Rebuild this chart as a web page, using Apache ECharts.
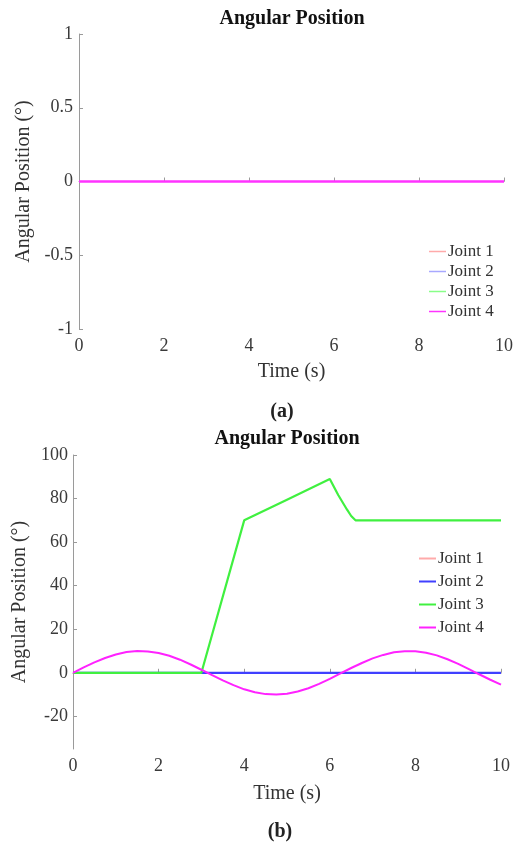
<!DOCTYPE html>
<html>
<head>
<meta charset="utf-8">
<script src="https://cdn.jsdelivr.net/npm/echarts@6/dist/echarts.min.js"></script>
<style>
html,body{margin:0;padding:0;background:#fff;}
#chart{width:516px;height:845px;}
</style>
</head>
<body>
<div id="chart"></div>
<script>
// ---- Data ----
const seriesNames = ['Joint 1', 'Joint 2', 'Joint 3', 'Joint 4'];

// (a) all joints stay at 0
const timeA = [0, 2, 4, 6, 8, 10];
const joint1A = [0, 0, 0, 0, 0, 0];
const joint2A = [0, 0, 0, 0, 0, 0];
const joint3A = [0, 0, 0, 0, 0, 0];
const joint4A = [0, 0, 0, 0, 0, 0];

// (b)
const timeB12 = [0, 10];
const joint1B = [0, 0];
const joint2B = [0, 0];
const timeB3 = [0, 3, 4, 5, 6, 6.2, 6.4, 6.5, 6.6, 10];
const joint3B = [0, 0, 70, 79.5, 89, 81.5, 75, 72, 70, 70];
const timeB4 = [0, 0.25, 0.5, 0.75, 1, 1.25, 1.5, 1.75, 2, 2.25, 2.5, 2.75, 3, 3.25, 3.5, 3.75, 4, 4.25, 4.5, 4.75, 5,
  5.25, 5.5, 5.75, 6, 6.25, 6.5, 6.75, 7, 7.25, 7.5, 7.75, 8, 8.25, 8.5, 8.75, 9, 9.25, 9.5, 9.75, 10];
const joint4B = [0, 2.5, 4.8, 6.8, 8.4, 9.5, 10.0, 9.8, 9.1, 7.8, 6.0, 3.8, 1.4, -1.1, -3.5, -5.7, -7.6, -8.9, -9.8, -10.0, -9.6,
  -8.6, -7.1, -5.1, -2.8, -0.3, 2.2, 4.5, 6.6, 8.2, 9.4, 9.9, 9.9, 9.2, 8.0, 6.2, 4.1, 1.7, -0.8, -3.2, -5.4];

// tick labels
const xTicks = [0, 2, 4, 6, 8, 10];
const yTicksA = [-1, -0.5, 0, 0.5, 1];
const yTicksB = [-20, 0, 20, 40, 60, 80, 100];

const titleText = 'Angular Position';
const xName = 'Time (s)';
const yName = 'Angular Position (°)';
const captions = ['(a)', '(b)'];

// ---- Chart ----
const FONT = '"Liberation Serif", "DejaVu Serif", serif';
const pair = (xs, ys) => xs.map((x, i) => [x, ys[i]]);

const axisCommon = {
  axisLine: { show: true, lineStyle: { color: '#9a9a9a', width: 1 } },
  axisTick: { show: true, inside: true, length: 4, lineStyle: { color: '#9a9a9a' } },
  splitLine: { show: false },
  axisLabel: { color: '#3a3a3a', fontFamily: FONT, fontSize: 18 },
  nameTextStyle: { color: '#333', fontFamily: FONT, fontSize: 20 }
};

function xAxisFor(gridIndex, gap) {
  return Object.assign({}, axisCommon, {
    type: 'value', gridIndex, min: 0, max: 10, interval: 2,
    name: xName, nameLocation: 'middle', nameGap: gap,
    axisLabel: Object.assign({}, axisCommon.axisLabel, { margin: 8, customValues: xTicks }),
    axisTick: Object.assign({}, axisCommon.axisTick, { customValues: xTicks })
  });
}

const colorsA = ['#ffaaaa', '#a8a8ff', '#88ff88', '#ff33ff'];
const widthsA = [1, 1, 1, 2.5];
const colorsB = ['#ffaaaa', '#4040ff', '#40f040', '#ff22ff'];
const widthsB = [1, 2.2, 2.2, 2];

function lineSeries(name, data, xi, yi, color, width) {
  return {
    name, type: 'line', data, xAxisIndex: xi, yAxisIndex: yi,
    symbol: 'none', showSymbol: false, animation: false,
    color: color,
    lineStyle: { color, width }
  };
}

const option = {
  backgroundColor: '#fff',
  animation: false,
  title: [
    { text: titleText, left: 292, top: 9, padding: 0, textAlign: 'center',
      textStyle: { fontFamily: FONT, fontSize: 20, fontWeight: 'bold', color: '#111' } },
    { text: titleText, left: 287, top: 429, padding: 0, textAlign: 'center',
      textStyle: { fontFamily: FONT, fontSize: 20, fontWeight: 'bold', color: '#111' } },
    { text: captions[0], left: 282, top: 402, padding: 0, textAlign: 'center',
      textStyle: { fontFamily: FONT, fontSize: 20, fontWeight: 'bold', color: '#222' } },
    { text: captions[1], left: 280, top: 822, padding: 0, textAlign: 'center',
      textStyle: { fontFamily: FONT, fontSize: 20, fontWeight: 'bold', color: '#222' } }
  ],
  grid: [
    { left: 79, right: 11, top: 34, height: 295 },
    { left: 73, right: 15, top: 455, height: 294 }
  ],
  legend: [
    { data: seriesNames.map((n, i) => ({ name: n, itemStyle: { color: colorsA[i] } })),
      orient: 'vertical', left: 429, top: 243, padding: 0, itemGap: 3,
      icon: 'rect', itemWidth: 17, itemHeight: 1.5,
      textStyle: { fontFamily: FONT, fontSize: 17, color: '#333', padding: [0, 0, 0, -3] },
      selectedMode: false },
    { data: seriesNames.map((n, i) => ({ name: n + ' ', itemStyle: { color: colorsB[i] } })),
      orient: 'vertical', left: 419, top: 550, padding: 0, itemGap: 6,
      icon: 'rect', itemWidth: 17, itemHeight: 2,
      textStyle: { fontFamily: FONT, fontSize: 17, color: '#333', padding: [0, 0, 0, -3] },
      selectedMode: false }
  ],
  xAxis: [ xAxisFor(0, 33), xAxisFor(1, 35) ],
  yAxis: [
    Object.assign({}, axisCommon, {
      type: 'value', gridIndex: 0, min: -1, max: 1, interval: 0.5,
      name: yName, nameLocation: 'middle', nameGap: 38,
      axisLabel: Object.assign({}, axisCommon.axisLabel, { margin: 6, customValues: yTicksA }),
      axisTick: Object.assign({}, axisCommon.axisTick, { customValues: yTicksA })
    }),
    Object.assign({}, axisCommon, {
      type: 'value', gridIndex: 1, min: -35, max: 100,
      name: yName, nameLocation: 'middle', nameGap: 33,
      axisLabel: Object.assign({}, axisCommon.axisLabel, { margin: 5, customValues: yTicksB }),
      axisTick: Object.assign({}, axisCommon.axisTick, { customValues: yTicksB })
    })
  ],
  series: [
    lineSeries(seriesNames[0], pair(timeA, joint1A), 0, 0, colorsA[0], widthsA[0]),
    lineSeries(seriesNames[1], pair(timeA, joint2A), 0, 0, colorsA[1], widthsA[1]),
    lineSeries(seriesNames[2], pair(timeA, joint3A), 0, 0, colorsA[2], widthsA[2]),
    lineSeries(seriesNames[3], pair(timeA, joint4A), 0, 0, colorsA[3], widthsA[3]),
    lineSeries(seriesNames[0] + ' ', pair(timeB12, joint1B), 1, 1, colorsB[0], widthsB[0]),
    lineSeries(seriesNames[1] + ' ', pair(timeB12, joint2B), 1, 1, colorsB[1], widthsB[1]),
    lineSeries(seriesNames[2] + ' ', pair(timeB3, joint3B), 1, 1, colorsB[2], widthsB[2]),
    lineSeries(seriesNames[3] + ' ', pair(timeB4, joint4B), 1, 1, colorsB[3], widthsB[3])
  ]
};

const chart = echarts.init(document.getElementById('chart'), null, { renderer: 'canvas' });
chart.setOption(option);
</script>
</body>
</html>
